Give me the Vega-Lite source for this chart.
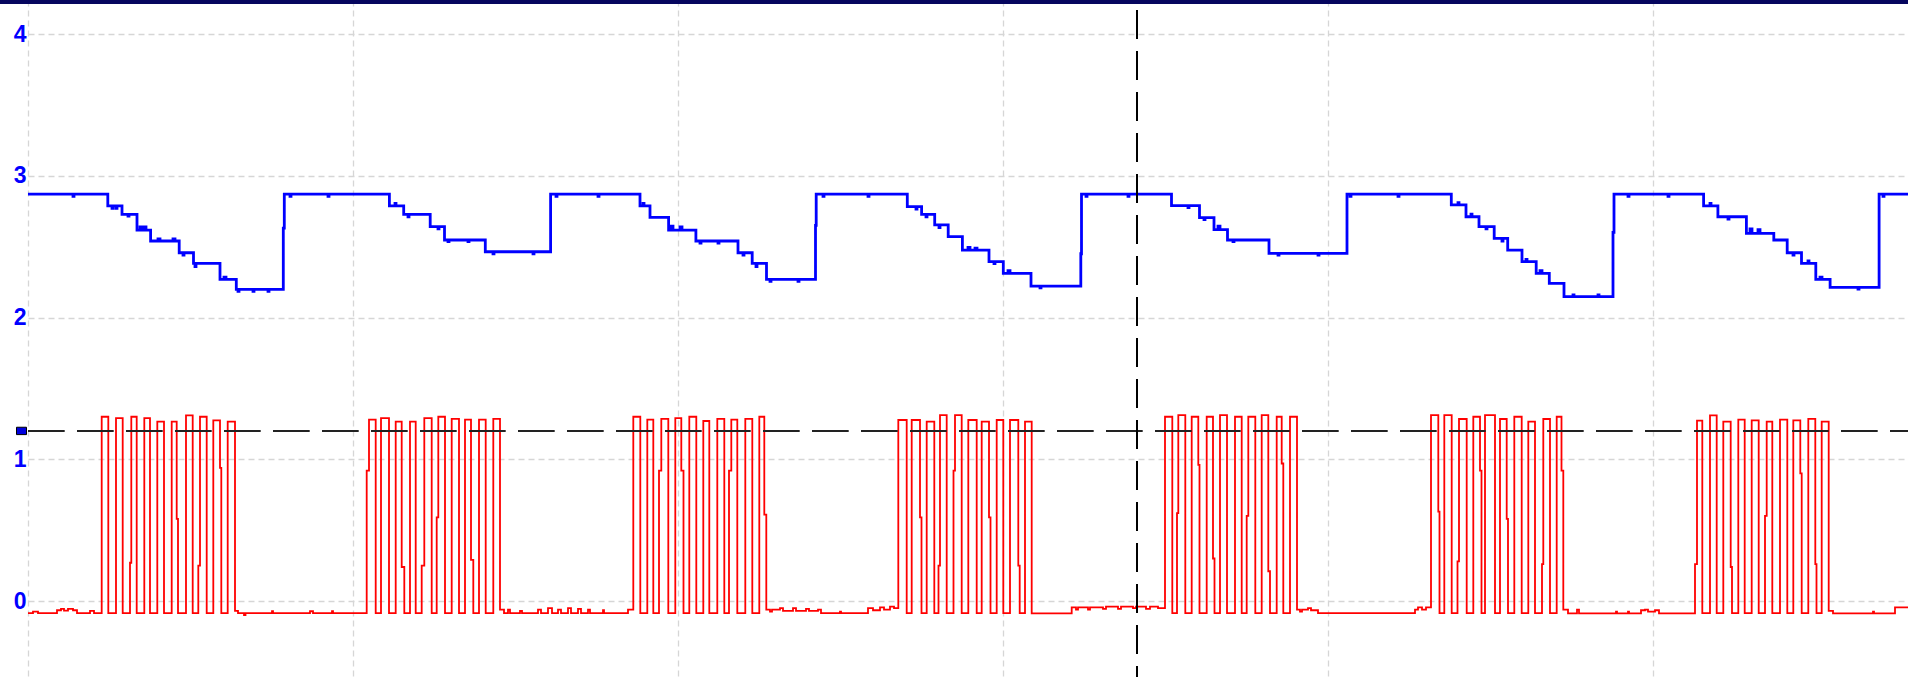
{
 "$schema": "https://vega.github.io/schema/vega-lite/v6.json",
 "width": 1880,
 "height": 677,
 "autosize": {"type": "none"},
 "padding": {"left": 28, "right": 7, "top": 0, "bottom": 0},
 "background": "white",
 "config": {"view": {"stroke": null}},
 "datasets": {
  "blue": [
   {"t":0,"v":2.87},{"t":45,"v":2.855},{"t":46,"v":2.87},{"t":79.8,"v":2.787},{"t":84,"v":2.77},{"t":85,"v":2.787},{"t":88,"v":2.77},{"t":89,"v":2.787},{"t":94,"v":2.728},{"t":100,"v":2.715},{"t":101,"v":2.728},{"t":109,"v":2.617},{"t":112,"v":2.64},{"t":114,"v":2.617},{"t":116,"v":2.64},{"t":118,"v":2.617},{"t":122.6,"v":2.54},{"t":130,"v":2.555},{"t":132,"v":2.54},{"t":145,"v":2.555},{"t":147,"v":2.54},{"t":151.2,"v":2.457},{"t":155,"v":2.44},{"t":156,"v":2.457},{"t":165.5,"v":2.382},{"t":167,"v":2.36},{"t":168,"v":2.382},{"t":192,"v":2.269},{"t":196,"v":2.285},{"t":198,"v":2.269},{"t":208.3,"v":2.199},{"t":210,"v":2.185},{"t":211,"v":2.199},{"t":225,"v":2.185},{"t":226,"v":2.199},{"t":240,"v":2.185},{"t":241,"v":2.199},{"t":255.3,"v":2.63},{"t":256.3,"v":2.87},
   {"t":262,"v":2.855},{"t":263,"v":2.87},{"t":300,"v":2.855},{"t":301,"v":2.87},{"t":361.4,"v":2.787},{"t":367,"v":2.805},{"t":368,"v":2.787},{"t":375.7,"v":2.728},{"t":380,"v":2.71},{"t":381,"v":2.728},{"t":402.2,"v":2.641},{"t":410,"v":2.625},{"t":411,"v":2.641},{"t":416.5,"v":2.547},{"t":420,"v":2.535},{"t":421,"v":2.547},{"t":440,"v":2.535},{"t":441,"v":2.547},{"t":457.3,"v":2.464},{"t":465,"v":2.45},{"t":466,"v":2.464},{"t":505,"v":2.45},{"t":506,"v":2.464},{"t":522.6,"v":2.87},{"t":528,"v":2.855},{"t":529,"v":2.87},{"t":570,"v":2.855},{"t":571,"v":2.87},
   {"t":612,"v":2.787},{"t":615,"v":2.805},{"t":616,"v":2.787},{"t":622,"v":2.707},{"t":640.6,"v":2.617},{"t":643,"v":2.645},{"t":645,"v":2.617},{"t":652,"v":2.64},{"t":654,"v":2.617},{"t":667.9,"v":2.54},{"t":672,"v":2.525},{"t":673,"v":2.54},{"t":690,"v":2.525},{"t":691,"v":2.54},{"t":710,"v":2.457},{"t":715,"v":2.44},{"t":716,"v":2.457},{"t":724.2,"v":2.382},{"t":728,"v":2.36},{"t":729,"v":2.382},{"t":738.5,"v":2.269},{"t":742,"v":2.255},{"t":743,"v":2.269},{"t":770,"v":2.255},{"t":771,"v":2.269},{"t":787.5,"v":2.65},{"t":788.2,"v":2.87},{"t":795,"v":2.855},{"t":796,"v":2.87},{"t":840,"v":2.855},{"t":841,"v":2.87},
   {"t":879.3,"v":2.782},{"t":888,"v":2.765},{"t":889,"v":2.782},{"t":893.6,"v":2.728},{"t":898,"v":2.71},{"t":899,"v":2.728},{"t":906.7,"v":2.653},{"t":911,"v":2.635},{"t":912,"v":2.653},{"t":920.2,"v":2.57},{"t":934.4,"v":2.476},{"t":940,"v":2.495},{"t":942,"v":2.476},{"t":947,"v":2.49},{"t":949,"v":2.476},{"t":961,"v":2.394},{"t":966,"v":2.38},{"t":967,"v":2.394},{"t":975.3,"v":2.312},{"t":980,"v":2.33},{"t":982,"v":2.312},{"t":1003,"v":2.222},{"t":1012,"v":2.21},{"t":1013,"v":2.222},{"t":1052.8,"v":2.45},{"t":1053.5,"v":2.87},{"t":1058,"v":2.855},{"t":1059,"v":2.87},{"t":1100,"v":2.855},{"t":1101,"v":2.87},
   {"t":1143.5,"v":2.79},{"t":1160,"v":2.775},{"t":1161,"v":2.79},{"t":1171.5,"v":2.705},{"t":1176,"v":2.69},{"t":1177,"v":2.705},{"t":1186,"v":2.62},{"t":1190,"v":2.645},{"t":1192,"v":2.62},{"t":1199.5,"v":2.547},{"t":1205,"v":2.535},{"t":1206,"v":2.547},{"t":1241,"v":2.453},{"t":1250,"v":2.44},{"t":1251,"v":2.453},{"t":1290,"v":2.44},{"t":1291,"v":2.453},{"t":1319,"v":2.87},{"t":1322,"v":2.855},{"t":1323,"v":2.87},{"t":1370,"v":2.855},{"t":1371,"v":2.87},
   {"t":1423.3,"v":2.794},{"t":1430,"v":2.81},{"t":1431,"v":2.794},{"t":1438,"v":2.711},{"t":1443,"v":2.73},{"t":1444,"v":2.711},{"t":1451,"v":2.641},{"t":1458,"v":2.625},{"t":1459,"v":2.641},{"t":1466.2,"v":2.558},{"t":1474,"v":2.54},{"t":1475,"v":2.558},{"t":1479.7,"v":2.476},{"t":1494,"v":2.394},{"t":1498,"v":2.41},{"t":1499,"v":2.394},{"t":1508.2,"v":2.312},{"t":1512,"v":2.33},{"t":1514,"v":2.312},{"t":1521.3,"v":2.241},{"t":1536,"v":2.147},{"t":1545,"v":2.16},{"t":1546,"v":2.147},{"t":1570,"v":2.16},{"t":1571,"v":2.147},{"t":1585,"v":2.6},{"t":1586,"v":2.87},{"t":1600,"v":2.855},{"t":1601,"v":2.87},{"t":1640,"v":2.855},{"t":1641,"v":2.87},
   {"t":1675.6,"v":2.787},{"t":1682,"v":2.805},{"t":1683,"v":2.787},{"t":1689.9,"v":2.711},{"t":1700,"v":2.695},{"t":1701,"v":2.711},{"t":1718.4,"v":2.594},{"t":1722,"v":2.625},{"t":1724,"v":2.594},{"t":1730,"v":2.62},{"t":1732,"v":2.594},{"t":1745.8,"v":2.547},{"t":1759.2,"v":2.457},{"t":1765,"v":2.44},{"t":1766,"v":2.457},{"t":1773.5,"v":2.382},{"t":1780,"v":2.4},{"t":1781,"v":2.382},{"t":1787.8,"v":2.269},{"t":1792,"v":2.285},{"t":1794,"v":2.269},{"t":1802.1,"v":2.213},{"t":1830,"v":2.2},{"t":1831,"v":2.213},{"t":1851.1,"v":2.87},{"t":1855,"v":2.855},{"t":1856,"v":2.87},{"t":1880,"v":2.87}
  ],
  "red": [
   {"t":0,"v":-0.085},{"t":5,"v":-0.075},{"t":10,"v":-0.085},{"t":29,"v":-0.065},{"t":33,"v":-0.055},{"t":36,"v":-0.068},{"t":40,"v":-0.055},{"t":45,"v":-0.065},{"t":49,"v":-0.085},{"t":62,"v":-0.07},{"t":66,"v":-0.085},
   {"t":73.7,"v":1.30},{"t":80.3,"v":-0.085},{"t":88,"v":1.29},{"t":94.7,"v":-0.085},{"t":102,"v":0.27},{"t":103.3,"v":1.30},{"t":108.7,"v":-0.085},{"t":116.3,"v":1.29},{"t":122,"v":-0.085},{"t":129.3,"v":1.265},{"t":136,"v":-0.085},{"t":143.7,"v":1.265},{"t":148.7,"v":0.58},{"t":150,"v":-0.085},{"t":158,"v":1.31},{"t":164.7,"v":-0.085},{"t":170.3,"v":0.25},{"t":172,"v":1.30},{"t":178.7,"v":-0.085},{"t":185.3,"v":1.275},{"t":192,"v":0.94},{"t":193.3,"v":-0.085},{"t":199.7,"v":1.265},{"t":207,"v":-0.07},
   {"t":210,"v":-0.085},{"t":216,"v":-0.1},{"t":217.5,"v":-0.085},{"t":244,"v":-0.072},{"t":245,"v":-0.085},{"t":282,"v":-0.072},{"t":285,"v":-0.085},{"t":304,"v":-0.072},{"t":305,"v":-0.085},
   {"t":338.7,"v":0.92},{"t":341,"v":1.28},{"t":347.7,"v":-0.085},{"t":353,"v":1.29},{"t":361,"v":-0.085},{"t":367.7,"v":1.265},{"t":373.7,"v":0.24},{"t":376.3,"v":-0.085},{"t":382,"v":1.265},{"t":387.7,"v":-0.085},{"t":393.7,"v":0.25},{"t":396.3,"v":1.29},{"t":403.7,"v":-0.085},{"t":408.7,"v":0.59},{"t":410.3,"v":1.30},{"t":417,"v":-0.085},{"t":423.7,"v":1.285},{"t":431,"v":-0.085},{"t":437,"v":1.28},{"t":443,"v":0.29},{"t":445.3,"v":-0.085},{"t":451,"v":1.28},{"t":457.7,"v":-0.085},{"t":465.3,"v":1.285},{"t":472,"v":-0.06},
   {"t":476,"v":-0.085},{"t":480,"v":-0.06},{"t":482,"v":-0.085},{"t":492,"v":-0.07},{"t":494,"v":-0.085},{"t":510,"v":-0.06},{"t":513,"v":-0.085},{"t":520,"v":-0.05},{"t":524,"v":-0.085},{"t":530,"v":-0.06},{"t":533,"v":-0.085},{"t":540,"v":-0.05},{"t":543,"v":-0.085},{"t":550,"v":-0.055},{"t":553,"v":-0.085},{"t":560,"v":-0.06},{"t":562,"v":-0.085},{"t":575,"v":-0.065},{"t":576,"v":-0.085},{"t":600,"v":-0.06},
   {"t":605.3,"v":1.30},{"t":612.3,"v":-0.085},{"t":619.3,"v":1.28},{"t":625.3,"v":-0.085},{"t":631,"v":0.92},{"t":633.3,"v":1.285},{"t":640.3,"v":-0.085},{"t":647.3,"v":1.29},{"t":653.3,"v":0.92},{"t":655.5,"v":-0.085},{"t":661.3,"v":1.30},{"t":668.3,"v":-0.085},{"t":675.3,"v":1.27},{"t":681.3,"v":-0.085},{"t":689.3,"v":1.285},{"t":696.3,"v":-0.085},{"t":701,"v":0.92},{"t":703.3,"v":1.28},{"t":709.3,"v":-0.085},{"t":717.3,"v":1.285},{"t":724.3,"v":-0.085},{"t":731.3,"v":1.30},{"t":736.3,"v":0.61},{"t":738.3,"v":-0.06},
   {"t":742,"v":-0.075},{"t":744,"v":-0.06},{"t":752,"v":-0.05},{"t":755,"v":-0.07},{"t":765,"v":-0.05},{"t":768,"v":-0.07},{"t":778,"v":-0.055},{"t":781,"v":-0.07},{"t":790,"v":-0.06},{"t":793,"v":-0.085},{"t":812,"v":-0.075},{"t":813,"v":-0.085},{"t":840,"v":-0.05},{"t":845,"v":-0.065},{"t":852,"v":-0.045},{"t":856,"v":-0.06},{"t":862,"v":-0.04},{"t":866,"v":-0.05},
   {"t":870.3,"v":1.277},{"t":878.7,"v":-0.085},{"t":883.7,"v":1.277},{"t":892,"v":0.59},{"t":893.5,"v":-0.085},{"t":898.7,"v":1.265},{"t":906.3,"v":-0.085},{"t":910.5,"v":0.25},{"t":912,"v":1.312},{"t":918.7,"v":-0.085},{"t":925.5,"v":0.92},{"t":927,"v":1.312},{"t":933.7,"v":-0.085},{"t":940.3,"v":1.277},{"t":948.7,"v":-0.085},{"t":953.7,"v":1.265},{"t":961,"v":0.59},{"t":962.5,"v":-0.085},{"t":968.7,"v":1.277},{"t":975.3,"v":-0.085},{"t":982,"v":1.277},{"t":990.3,"v":0.25},{"t":991.7,"v":-0.085},{"t":997,"v":1.265},{"t":1003.7,"v":-0.087},
   {"t":1043.7,"v":-0.045},{"t":1048,"v":-0.06},{"t":1050,"v":-0.045},{"t":1060,"v":-0.06},{"t":1062,"v":-0.045},{"t":1075,"v":-0.055},{"t":1078,"v":-0.04},{"t":1090,"v":-0.055},{"t":1093,"v":-0.04},{"t":1105,"v":-0.05},{"t":1108,"v":-0.04},{"t":1118,"v":-0.055},{"t":1122,"v":-0.04},{"t":1130,"v":-0.05},
   {"t":1137,"v":1.30},{"t":1144.3,"v":-0.085},{"t":1149,"v":0.62},{"t":1150.3,"v":1.312},{"t":1157.3,"v":-0.085},{"t":1163.7,"v":1.30},{"t":1170.3,"v":0.96},{"t":1171.5,"v":-0.085},{"t":1178.7,"v":1.30},{"t":1185,"v":0.30},{"t":1186.5,"v":-0.085},{"t":1192,"v":1.312},{"t":1199,"v":-0.085},{"t":1207,"v":1.30},{"t":1213.7,"v":-0.085},{"t":1218.7,"v":0.60},{"t":1220.3,"v":1.30},{"t":1227.3,"v":-0.085},{"t":1233.7,"v":1.312},{"t":1240.3,"v":0.21},{"t":1242,"v":-0.085},{"t":1248.7,"v":1.30},{"t":1253.7,"v":0.97},{"t":1255.3,"v":-0.085},{"t":1262,"v":1.30},{"t":1269,"v":-0.06},
   {"t":1272,"v":-0.075},{"t":1274,"v":-0.06},{"t":1280,"v":-0.05},{"t":1283,"v":-0.065},{"t":1290,"v":-0.085},{"t":1387,"v":-0.06},{"t":1390,"v":-0.045},{"t":1394,"v":-0.06},{"t":1398,"v":-0.045},
   {"t":1403,"v":1.312},{"t":1410.3,"v":0.63},{"t":1411.5,"v":-0.085},{"t":1416.3,"v":1.312},{"t":1423.7,"v":-0.085},{"t":1429.5,"v":0.28},{"t":1431,"v":1.284},{"t":1438.7,"v":-0.085},{"t":1445.3,"v":1.30},{"t":1452,"v":0.92},{"t":1453.5,"v":-0.085},{"t":1457,"v":1.312},{"t":1467,"v":-0.085},{"t":1472,"v":1.284},{"t":1478.7,"v":0.58},{"t":1480,"v":-0.085},{"t":1486.3,"v":1.30},{"t":1493.7,"v":-0.085},{"t":1500.3,"v":1.265},{"t":1507,"v":-0.085},{"t":1514,"v":0.26},{"t":1515.3,"v":1.284},{"t":1522,"v":-0.085},{"t":1528.7,"v":1.30},{"t":1533.5,"v":0.92},{"t":1535.3,"v":-0.06},
   {"t":1540,"v":-0.087},{"t":1549,"v":-0.06},{"t":1551,"v":-0.087},{"t":1588,"v":-0.075},{"t":1589,"v":-0.087},{"t":1600,"v":-0.075},{"t":1601,"v":-0.087},{"t":1613,"v":-0.065},{"t":1617,"v":-0.06},{"t":1620,"v":-0.075},{"t":1627,"v":-0.065},{"t":1631,"v":-0.087},
   {"t":1667,"v":0.26},{"t":1669,"v":1.272},{"t":1674.3,"v":-0.085},{"t":1682,"v":1.31},{"t":1688.7,"v":-0.085},{"t":1695.3,"v":1.265},{"t":1702.7,"v":0.24},{"t":1704,"v":-0.085},{"t":1710.3,"v":1.28},{"t":1716.7,"v":-0.085},{"t":1723.7,"v":1.275},{"t":1730.7,"v":-0.085},{"t":1737,"v":0.6},{"t":1738.7,"v":1.265},{"t":1744.3,"v":-0.085},{"t":1752,"v":1.28},{"t":1759.3,"v":-0.085},{"t":1765.3,"v":1.275},{"t":1772.3,"v":0.9},{"t":1773.7,"v":-0.085},{"t":1780.3,"v":1.285},{"t":1787.3,"v":0.26},{"t":1788.5,"v":-0.085},{"t":1793.7,"v":1.265},{"t":1800.7,"v":-0.07},
   {"t":1805,"v":-0.087},{"t":1845,"v":-0.075},{"t":1846,"v":-0.087},{"t":1867,"v":-0.045},{"t":1880,"v":-0.045}
  ],
  "cursorT": [{"t": 1109}],
  "cursorV": [{"v": 1.2}]
 },
 "layer": [
  {
   "data": {"name": "blue"},
   "mark": {"type": "line", "interpolate": "step-after", "color": "#0000ff", "strokeWidth": 2.8},
   "encoding": {
    "x": {"field": "t", "type": "quantitative",
          "scale": {"domain": [0, 1880], "nice": false, "zero": false},
          "axis": {"values": [0, 325, 650, 975, 1300, 1625], "labels": false, "ticks": false, "domain": false, "title": null,
                   "grid": true, "gridColor": "#d6d6d6", "gridDash": [6, 4], "gridWidth": 1.3}},
    "y": {"field": "v", "type": "quantitative",
          "scale": {"domain": [-0.536, 4.24], "nice": false, "zero": false},
          "axis": {"values": [0, 1, 2, 3, 4], "format": "d", "ticks": false, "domain": false, "title": null,
                   "grid": true, "gridColor": "#d6d6d6", "gridDash": [6, 4], "gridWidth": 1.3,
                   "labelColor": "#0000ff", "labelFont": "Liberation Sans", "labelFontSize": 23, "labelFontWeight": "bold",
                   "labelPadding": 2, "labelBaseline": "middle"}}
   }
  },
  {
   "data": {"name": "red"},
   "mark": {"type": "line", "interpolate": "step-after", "color": "#ff0000", "strokeWidth": 1.8},
   "encoding": {
    "x": {"field": "t", "type": "quantitative"},
    "y": {"field": "v", "type": "quantitative"}
   }
  },
  {
   "data": {"name": "cursorV"},
   "mark": {"type": "rule", "color": "#222222", "strokeWidth": 2, "strokeDash": [36.7, 12.3]},
   "encoding": {
    "y": {"field": "v", "type": "quantitative"},
    "x": {"datum": 0},
    "x2": {"datum": 1880}
   }
  },
  {
   "data": {"name": "cursorT"},
   "mark": {"type": "rule", "color": "#000000", "strokeWidth": 2, "strokeDash": [29, 12]},
   "encoding": {
    "x": {"field": "t", "type": "quantitative"},
    "y": {"datum": 4.17},
    "y2": {"datum": -0.536}
   }
  },
  {
   "data": {"values": [{}]},
   "mark": {"type": "rect", "fill": "#0000dd", "stroke": "#000000", "strokeWidth": 1},
   "encoding": {
    "x": {"datum": -11.5},
    "x2": {"datum": -1.5},
    "y": {"datum": 1.226},
    "y2": {"datum": 1.174}
   }
  },
  {
   "data": {"values": [{}]},
   "mark": {"type": "rect", "fill": "#06065e"},
   "encoding": {
    "x": {"datum": -28},
    "x2": {"datum": 1880},
    "y": {"datum": 4.24},
    "y2": {"datum": 4.212}
   }
  }
 ]
}
